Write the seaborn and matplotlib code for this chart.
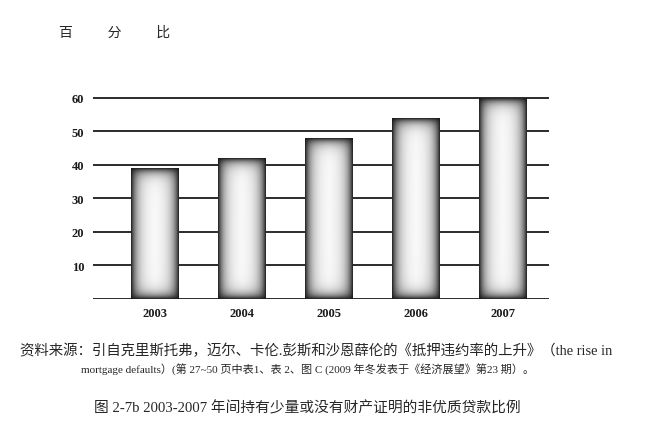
import numpy as np
import matplotlib
matplotlib.use("Agg")
import matplotlib.pyplot as plt
import seaborn as sns

# data
years = ["2003", "2004", "2005", "2006", "2007"]
share = [39, 42, 48, 54, 60]
y_ticks = [0, 10, 20, 30, 40, 50, 60]
y_tick_labels = ["", "10", "20", "30", "40", "50", "60"]

title_txt = "百　　  分　　  比"
source_line1 = "资料来源：引自克里斯托弗，迈尔、卡伦.彭斯和沙恩薛伦的《抵押违约率的上升》（the rise in"
source_line2 = "mortgage defaults）(第 27~50 页中表1、表 2、图 C (2009 年冬发表于《经济展望》第23 期）。"
caption = "图 2-7b 2003-2007 年间持有少量或没有财产证明的非优质贷款比例"

sns.set_style("white")
plt.rcParams["font.family"] = ["Liberation Serif", "Noto Sans CJK SC", "DejaVu Sans"]

W, H, DPI = 650, 439, 100
fig = plt.figure(figsize=(W / DPI, H / DPI), dpi=DPI)
ax = fig.add_axes([92.7 / W, 1 - 299.5 / H, (549 - 92.7) / W, (299.5 - 97.5) / H])

sns.barplot(x=years, y=share, ax=ax, color="white", width=0.546, zorder=3)

ax.set_xlim(-0.71, 4.53)
ax.set_ylim(0, 60.3)
ax.set_yticks(y_ticks)
ax.set_yticklabels(y_tick_labels, fontsize=9, fontweight="bold", color="#1a1a1a")
ax.tick_params(axis="both", length=0)
ax.tick_params(axis="y", pad=6)
ax.tick_params(axis="x", pad=6, labelsize=9, labelcolor="#1a1a1a")
for lbl in ax.get_xticklabels():
    lbl.set_fontweight("bold")
ax.yaxis.grid(True, color="#1a1a1a", linewidth=1.3, zorder=1)
ax.set_axisbelow(True)
for s in ax.spines.values():
    s.set_visible(False)
ax.set_xlabel("")
ax.set_ylabel("")

# shaded bars: dark rim, light middle
fig.canvas.draw()
for p in ax.patches:
    x0, y0 = p.get_x(), p.get_y()
    w, h = p.get_width(), p.get_height()
    (px0, py0), (px1, py1) = ax.transData.transform([(x0, y0), (x0 + w, y0 + h)])
    nw, nh = max(int(px1 - px0), 2), max(int(py1 - py0), 2)
    xs = np.arange(nw) + 0.5
    ys = np.arange(nh) + 0.5
    dx = np.minimum(xs, nw - xs)
    dy = np.minimum(ys, nh - ys)
    fx = 1 - np.exp(-dx / 6.0)
    fy = 1 - np.exp(-dy / 5.0)
    shade = 0.1 + 0.89 * np.outer(fy, fx)
    ax.imshow(shade, cmap="gray", vmin=0, vmax=1, extent=(x0, x0 + w, y0, y0 + h),
              aspect="auto", zorder=4, interpolation="bilinear")
    p.set_visible(False)
ax.set_xlim(-0.71, 4.53)
ax.set_ylim(0, 60.3)

fig.text(59 / W, 1 - 33 / H, title_txt, fontsize=10, va="center", ha="left")
fig.text(20 / W, 1 - 351 / H, source_line1, fontsize=10.4, va="center", ha="left")
fig.text(81 / W, 1 - 370 / H, source_line2, fontsize=8.0, va="center", ha="left")
fig.text(94 / W, 1 - 408 / H, caption, fontsize=10.6, va="center", ha="left")

fig.savefig("out.png", dpi=DPI, facecolor="white")
